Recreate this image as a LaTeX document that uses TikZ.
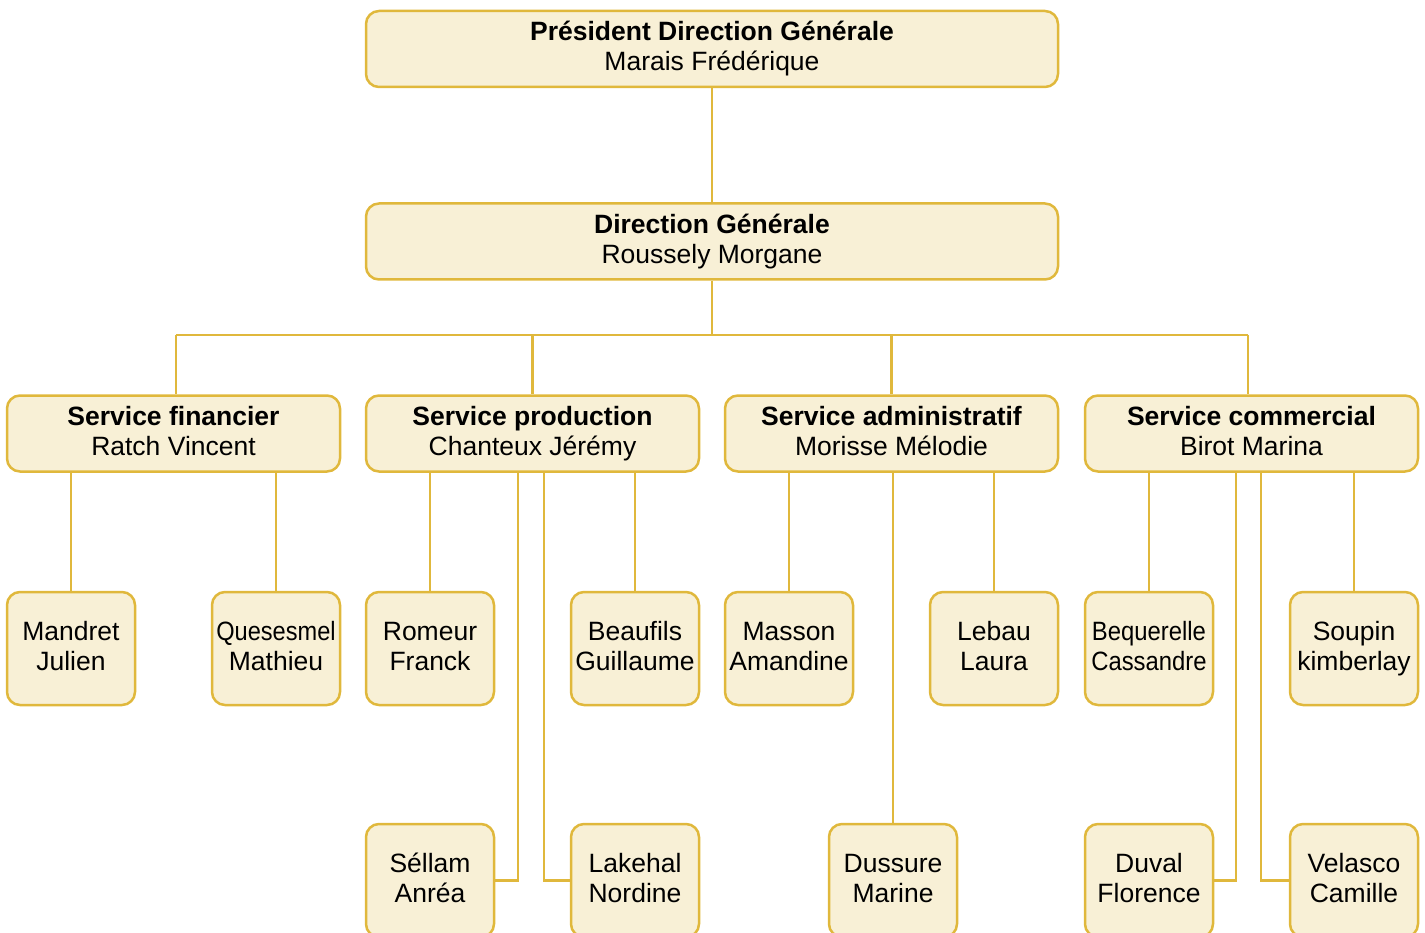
\documentclass[tikz,border=0pt]{standalone}
\usepackage{fontspec}
\setmainfont{Liberation Sans}
\definecolor{cream}{HTML}{F8F0D6}
\definecolor{gold}{HTML}{E0B83C}
\begin{document}
\begin{tikzpicture}[x=1pt,y=-1pt,
  box/.style={draw=gold, fill=cream, line width=2.5pt, rounded corners=13pt, inner sep=0pt,
    align=center, font=\fontsize{26.5}{30}\selectfont,
    execute at begin node={\rule{0pt}{21pt}}, execute at end node={\rule[-5pt]{0pt}{5pt}}},
  wide/.style={box, minimum width=692pt, minimum height=76pt},
  svc/.style={box, minimum width=333pt, minimum height=76pt},
  leaf/.style={box, minimum width=128pt, minimum height=113pt},
  link/.style={draw=gold, line width=2.5pt}]
\useasboundingbox (0,0) rectangle (1425,933);
\clip (0,0) rectangle (1425,933);
% top levels
\node[wide] (pdg) at (712,49) {\textbf{Président Direction Générale}\\Marais Frédérique};
\node[wide] (dg) at (712,241.5) {\textbf{Direction Générale}\\Roussely Morgane};
% services
\node[svc] (sf) at (173.5,433.5) {\textbf{Service financier}\\Ratch Vincent};
\node[svc] (sp) at (532.5,433.5) {\textbf{Service production}\\Chanteux Jérémy};
\node[svc] (sa) at (891.5,433.5) {\textbf{Service administratif}\\Morisse Mélodie};
\node[svc] (sc) at (1251.5,433.5) {\textbf{Service commercial}\\Birot Marina};
% row 2
\node[leaf] (mj) at (71,648.5) {Mandret\\Julien};
\node[leaf] (qm) at (276,648.5) {\scalebox{0.89}[1]{Quesesmel}\\Mathieu};
\node[leaf] (rf) at (430,648.5) {Romeur\\Franck};
\node[leaf] (bg) at (635,648.5) {Beaufils\\Guillaume};
\node[leaf] (ma) at (789,648.5) {Masson\\Amandine};
\node[leaf] (ll) at (994,648.5) {Lebau\\Laura};
\node[leaf] (bc) at (1149,648.5) {\scalebox{0.9}[1]{Bequerelle}\\\scalebox{0.9}[1]{Cassandre}};
\node[leaf] (sk) at (1354,648.5) {Soupin\\kimberlay};
% row 3
\node[leaf] (sea) at (430,880.5) {Séllam\\Anréa};
\node[leaf] (ln) at (635,880.5) {Lakehal\\Nordine};
\node[leaf] (dm) at (893,880.5) {Dussure\\Marine};
\node[leaf] (df) at (1149,880.5) {Duval\\Florence};
\node[leaf] (vc) at (1354,880.5) {Velasco\\Camille};
% connectors top
\draw[link] (pdg.south) -- (dg.north);
\coordinate (busL) at (176,335);
\coordinate (busR) at (1248,335);
\draw[link] (dg.south) -- (dg.south |- busL);
\draw[link] (busL) -- (busR);
\draw[link] (busL) -- (busL |- sf.north);
\draw[link] (sp.north |- busL) -- (sp.north);
\draw[link] (sa.north |- busL) -- (sa.north);
\draw[link] (busR) -- (busR |- sc.north);
% financier
\draw[link] (sf.south -| mj.north) -- (mj.north);
\draw[link] (sf.south -| qm.north) -- (qm.north);
% production
\draw[link] (sp.south -| rf.north) -- (rf.north);
\draw[link] (sp.south -| bg.north) -- (bg.north);
\coordinate (p1) at (518,0);
\coordinate (p2) at (544,0);
\draw[link] (sea.east) -| (p1 |- sp.south);
\draw[link] (ln.west) -| (p2 |- sp.south);
% administratif
\draw[link] (sa.south -| ma.north) -- (ma.north);
\draw[link] (sa.south -| ll.north) -- (ll.north);
\draw[link] (sa.south -| dm.north) -- (dm.north);
% commercial
\draw[link] (sc.south -| bc.north) -- (bc.north);
\draw[link] (sc.south -| sk.north) -- (sk.north);
\coordinate (c1) at (1236,0);
\coordinate (c2) at (1261,0);
\draw[link] (df.east) -| (c1 |- sc.south);
\draw[link] (vc.west) -| (c2 |- sc.south);
\end{tikzpicture}
\end{document}
